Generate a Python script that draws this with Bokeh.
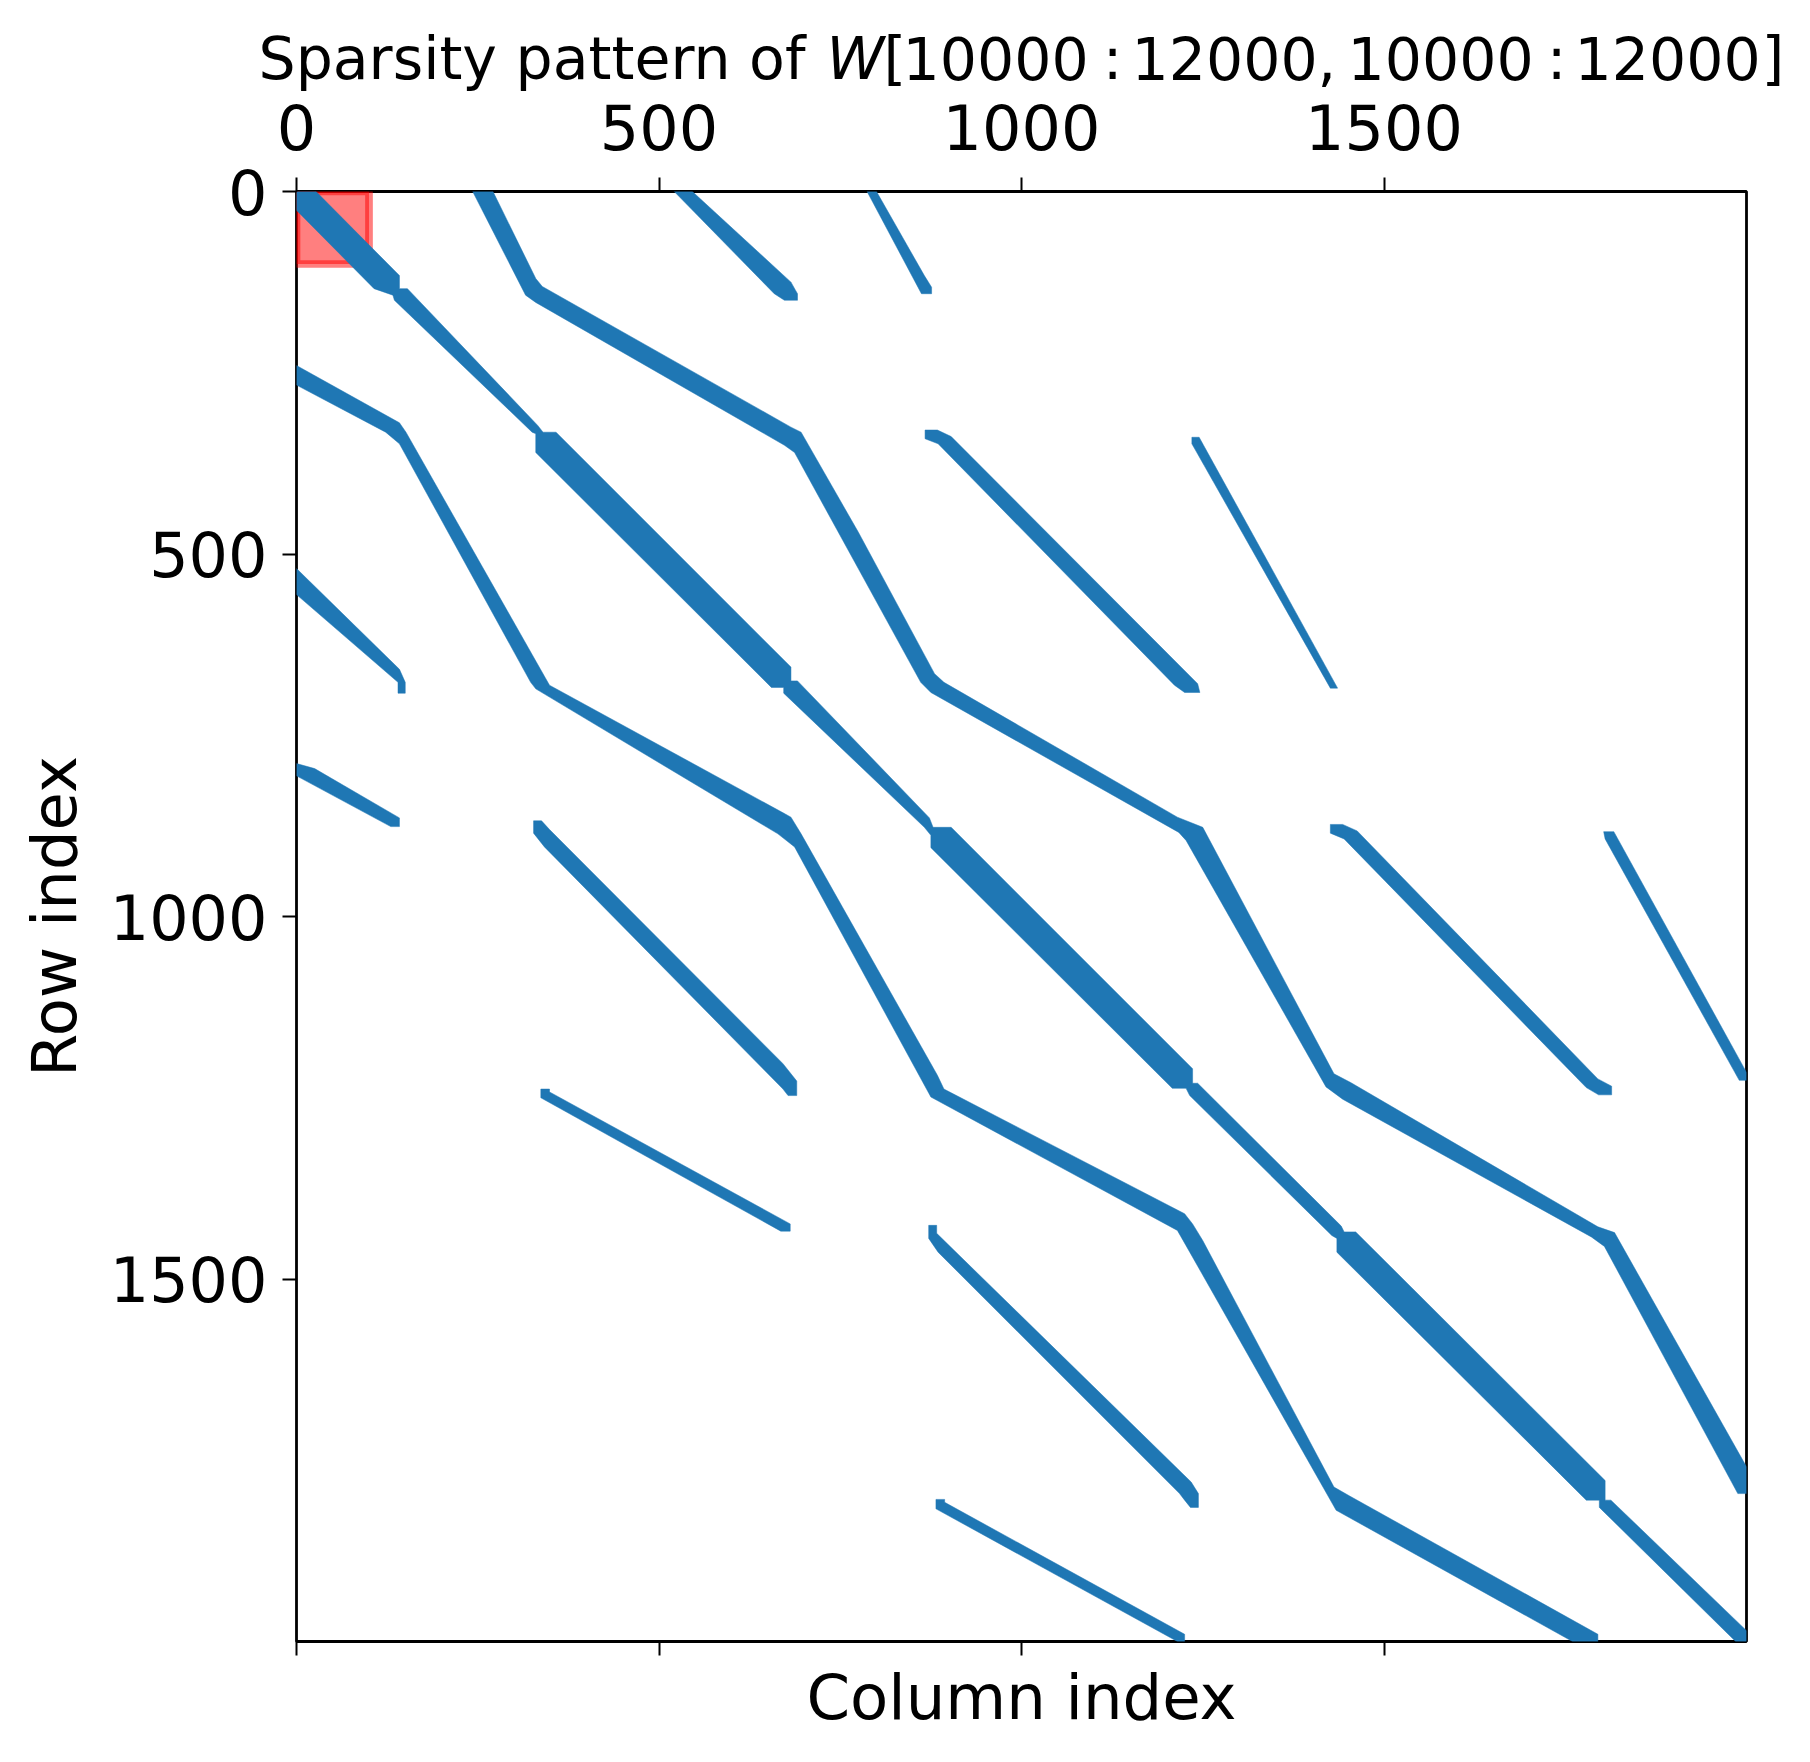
from bokeh.embed import file_html
from bokeh.layouts import column, row
from bokeh.models import CustomLabelingPolicy, FixedTicker, Label, LinearAxis, Range1d
from bokeh.plotting import figure
from bokeh.resources import INLINE

# Tick labels
x_ticks = [0, 500, 1000, 1500]
y_ticks = [0, 500, 1000, 1500]

# Highlighted block: [first index, last index]
block_span = [0, 100]

# Outlines of the non-zero bands (column, row)
diag_cols = [0, 27, 142, 142, 153, 333, 340, 358, 682, 682, 691, 873, 878, 903, 1236, 1236, 1243, 1441, 1445, 1461,
             1805, 1805, 1813, 2000, 2000, 1985, 1797, 1797, 1779, 1435, 1435, 1428, 1232, 1227, 1208, 875, 875, 866,
             672, 672, 655, 330, 330, 325, 135, 133, 107, 0]
diag_rows = [0, 0, 116, 134, 134, 323, 332, 332, 656, 675, 675, 864, 877, 877, 1210, 1230, 1230, 1427, 1435, 1435,
             1778, 1805, 1805, 1985, 2000, 2000, 1815, 1805, 1805, 1463, 1444, 1440, 1247, 1237, 1237, 905, 888, 877,
             692, 684, 684, 360, 334, 332, 150, 143, 134, 26]

upper_cols = [243, 271, 330, 339, 682, 696, 775, 880, 893, 1215, 1250, 1431, 1454, 1795, 1818, 2000, 2000, 1988,
              1804, 1786, 1443, 1420, 1227, 1217, 875, 861, 687, 673, 330, 316]
upper_rows = [0, 0, 120, 131, 325, 332, 470, 665, 677, 863, 877, 1217, 1229, 1428, 1436, 1759, 1796, 1796,
              1455, 1442, 1252, 1235, 895, 884, 691, 677, 360, 350, 153, 143]

lower_cols = [0, 142, 151, 349, 673, 682, 696, 884, 893, 1225, 1236, 1250, 1431, 1452, 1795, 1795, 1760,
              1434, 1227, 1215, 875, 687, 664, 330, 323, 142, 123, 0]
lower_rows = [240, 319, 332, 681, 858, 863, 886, 1219, 1238, 1410, 1424, 1447, 1787, 1799, 1990, 2000, 2000,
              1819, 1454, 1433, 1249, 904, 886, 686, 677, 348, 332, 267]

seg_a_cols = [521, 546, 682, 691, 691, 673, 659]
seg_a_rows = [0, 0, 125, 141, 150, 150, 141]
seg_b_cols = [787, 800, 866, 876, 876, 862]
seg_b_rows = [0, 0, 116, 132, 141, 141]
seg_c_cols = [0, 142, 150, 150, 140, 140, 0]
seg_c_rows = [520, 659, 677, 692, 692, 677, 556]
seg_d_cols = [0, 25, 142, 142, 130, 0]
seg_d_rows = [789, 796, 864, 876, 876, 806]
seg_e_cols = [327, 338, 349, 671, 690, 690, 678, 671, 342, 327]
seg_e_rows = [868, 868, 880, 1203, 1227, 1247, 1247, 1238, 904, 885]
seg_f_cols = [337, 349, 349, 681, 681, 668, 337]
seg_f_rows = [1238, 1238, 1242, 1424, 1434, 1434, 1250]
seg_g_cols = [867, 884, 903, 1243, 1246, 1225, 1211, 885, 867]
seg_g_rows = [329, 329, 338, 679, 691, 691, 681, 348, 341]
seg_h_cols = [1235, 1245, 1436, 1426, 1235]
seg_h_rows = [339, 339, 685, 685, 348]
seg_i_cols = [1426, 1443, 1463, 1795, 1814, 1814, 1796, 1779, 1445, 1426]
seg_i_rows = [873, 873, 882, 1224, 1234, 1246, 1246, 1236, 893, 885]
seg_j_cols = [1803, 1817, 2000, 2000, 1990, 1805]
seg_j_rows = [883, 883, 1215, 1226, 1226, 893]
seg_k_cols = [872, 883, 883, 1234, 1244, 1244, 1233, 1225, 1218, 885, 872]
seg_k_rows = [1426, 1426, 1437, 1780, 1796, 1815, 1815, 1805, 1796, 1463, 1444]
seg_l_cols = [882, 894, 894, 1225, 1225, 1215, 882]
seg_l_rows = [1804, 1804, 1808, 1990, 2000, 2000, 1817]

all_cols = [diag_cols, upper_cols, lower_cols, seg_a_cols, seg_b_cols, seg_c_cols, seg_d_cols,
            seg_e_cols, seg_f_cols, seg_g_cols, seg_h_cols, seg_i_cols, seg_j_cols, seg_k_cols, seg_l_cols]
all_rows = [diag_rows, upper_rows, lower_rows, seg_a_rows, seg_b_rows, seg_c_rows, seg_d_rows,
            seg_e_rows, seg_f_rows, seg_g_rows, seg_h_rows, seg_i_rows, seg_j_rows, seg_k_rows, seg_l_rows]

# Title pieces: text, style, alignment, left/centre position on the page
title_pieces = [
    ("Sparsity pattern of", "normal", "left", 258),
    ("W", "italic", "left", 826),
    ("[", "normal", "left", 883),
    ("10000", "normal", "left", 902),
    (":", "normal", "center", 1112),
    ("12000", "normal", "left", 1131),
    (",", "normal", "left", 1317),
    ("10000", "normal", "left", 1347),
    (":", "normal", "center", 1556),
    ("12000", "normal", "left", 1574),
    ("]", "normal", "left", 1761),
]

FONT = "DejaVu Sans"
TICK_SIZE = "62px"
LABEL_SIZE = "62.5px"
TITLE_SIZE = "58.5px"
PAGE_WIDTH = 1802
HEADER_HEIGHT = 98
FRAME_LEFT, FRAME_TOP = 296, 191

# Title strip above the chart: its data coordinates are page pixels
header = figure(
    frame_width=PAGE_WIDTH, frame_height=HEADER_HEIGHT,
    x_range=Range1d(0, PAGE_WIDTH), y_range=Range1d(HEADER_HEIGHT, 0),
    x_axis_location=None, y_axis_location=None,
    min_border_left=0, min_border_right=0, min_border_top=0, min_border_bottom=0,
    toolbar_location=None, output_backend="svg",
)
header.grid.visible = False
header.outline_line_color = None
for text, style, align, page_x in title_pieces:
    header.add_layout(Label(x=page_x, y=58, text=text, text_font=FONT, text_font_size=TITLE_SIZE,
                            text_font_style=style, text_color="black", text_align=align,
                            text_baseline="alphabetic"))

p = figure(
    frame_width=1450, frame_height=1450,
    x_range=Range1d(0, 2000), y_range=Range1d(2000, 0),
    x_axis_location=None, y_axis_location=None,
    min_border_left=FRAME_LEFT, min_border_right=56, min_border_top=FRAME_TOP - HEADER_HEIGHT, min_border_bottom=113,
    toolbar_location=None, output_backend="svg",
    background_fill_color="white", border_fill_color="white",
)
p.grid.visible = False
p.outline_line_color = "black"
p.outline_line_width = 2.8


def style_axis(axis, ticks):
    axis.ticker = FixedTicker(ticks=ticks)
    axis.axis_line_color = None
    axis.major_tick_line_color = "black"
    axis.major_tick_line_width = 2
    axis.major_tick_in = 0
    axis.major_tick_out = 14
    axis.minor_tick_line_color = None
    axis.major_label_text_font = FONT
    axis.major_label_text_font_size = TICK_SIZE
    axis.major_label_text_color = "black"
    axis.axis_label_text_font = FONT
    axis.axis_label_text_font_size = LABEL_SIZE
    axis.axis_label_text_font_style = "normal"
    axis.axis_label_text_color = "black"


top = LinearAxis()
style_axis(top, x_ticks)
top.major_label_standoff = 28
p.add_layout(top, "above")

bottom = LinearAxis(axis_label="Column index")
style_axis(bottom, x_ticks)
bottom.major_label_text_font_size = "1px"
bottom.major_label_policy = CustomLabelingPolicy(code="return false")
bottom.major_label_standoff = 0
bottom.axis_label_standoff = 1
p.add_layout(bottom, "below")

left = LinearAxis(axis_label="Row index")
style_axis(left, y_ticks)
left.major_label_standoff = 15
left.axis_label_standoff = 16
p.add_layout(left, "left")

# Highlighted block
p.quad(left=[block_span[0]], right=[block_span[1]], top=[block_span[0]], bottom=[block_span[1]],
       fill_color="#ff0000", fill_alpha=0.5, line_color="#ff0000", line_alpha=0.5, line_width=7.7)

# Non-zero bands
p.patches(xs=all_cols, ys=all_rows, fill_color="#1f77b4", line_color="#1f77b4", line_width=0.5)

open("out.html", "w").write(file_html(column(row(header), row(p), spacing=0), INLINE))
